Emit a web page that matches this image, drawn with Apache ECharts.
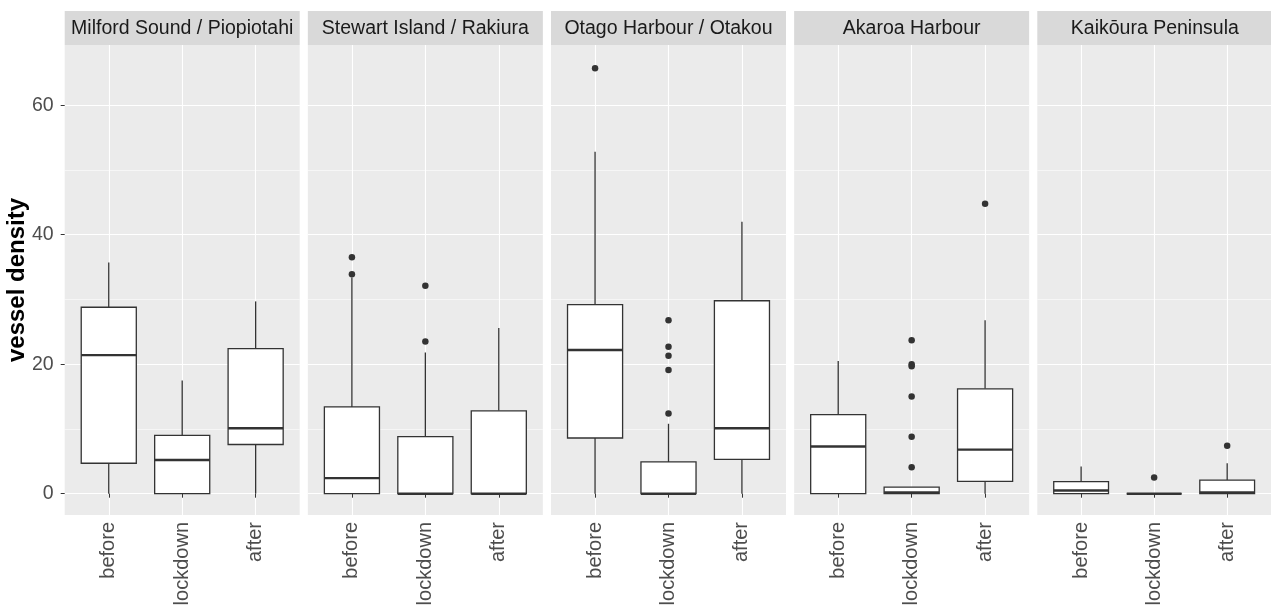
<!DOCTYPE html>
<html>
<head>
<meta charset="utf-8">
<script src="https://cdn.jsdelivr.net/npm/echarts@6/dist/echarts.min.js"></script>
<style>
html,body{margin:0;padding:0;background:#fff;}
#chart{width:1271px;height:612px;}
</style>
</head>
<body>
<div id="chart"></div>
<script>
// ---------- data ----------
const sites = ['Milford Sound / Piopiotahi', 'Stewart Island / Rakiura', 'Otago Harbour / Otakou', 'Akaroa Harbour', 'Kaikōura Peninsula'];
const periods = ['before', 'lockdown', 'after'];
const yTicks = [0, 20, 40, 60];
const yMinorTicks = [10, 30, 50];
const yTitle = 'vessel density';

// per period: [lower whisker, Q1, median, Q3, upper whisker]
const milford  = [[0, 4.7, 21.4, 28.8, 35.7], [0, 0, 5.2, 9.0, 17.5], [0, 7.6, 10.1, 22.4, 29.7]];
const stewart  = [[0, 0, 2.4, 13.4, 33.4], [0, 0, 0, 8.8, 21.8], [0, 0, 0, 12.8, 25.6]];
const otago    = [[0, 8.6, 22.2, 29.2, 52.8], [0, 0, 0, 4.9, 10.8], [0, 5.3, 10.1, 29.8, 42.0]];
const akaroa   = [[0, 0, 7.3, 12.2, 20.5], [0, 0, 0.2, 1.0, 1.0], [0, 1.9, 6.8, 16.2, 26.8]];
const kaikoura = [[0, 0, 0.5, 1.85, 4.2], [0, 0, 0, 0, 0], [0, 0, 0.2, 2.1, 4.7]];

// outliers: [period index, value]
const milfordOut  = [];
const stewartOut  = [[0, 36.5], [0, 33.9], [1, 32.1], [1, 23.5]];
const otagoOut    = [[0, 65.7], [1, 26.8], [1, 22.7], [1, 21.3], [1, 19.1], [1, 12.4]];
const akaroaOut   = [[1, 23.7], [1, 20.0], [1, 19.7], [1, 15.0], [1, 8.8], [1, 4.1], [2, 44.8]];
const kaikouraOut = [[1, 2.5], [2, 7.4]];

const boxStats = [milford, stewart, otago, akaroa, kaikoura];
const outliers = [milfordOut, stewartOut, otagoOut, akaroaOut, kaikouraOut];

// ---------- layout ----------
const PANEL_LEFT0 = 64.7, PANEL_STEP = 243.15, PANEL_W = 235;
const PLOT_TOP = 45, PLOT_H = 470;
const STRIP_TOP = 11, STRIP_H = 34;
const Y_MIN = -3.29, Y_MAX = 69.3;
const X_MIN = 0.4, X_MAX = 3.6;
const BOX_W = 0.75;
const FONT = "'Liberation Sans', Arial, Helvetica, sans-serif";
const TXT = '#4D4D4D';

const grids = [], xAxes = [], yAxes = [], series = [], graphics = [];
const catVals = periods.map((p, i) => i + 1);

function renderBox(params, api) {
  const x = api.value(0);
  const lo = api.value(1), q1 = api.value(2), med = api.value(3), q3 = api.value(4), hi = api.value(5);
  const h = BOX_W / 2;
  const pLo = api.coord([x, lo]);
  const pHi = api.coord([x, hi]);
  const pQ1 = api.coord([x - h, q1]);
  const pQ3 = api.coord([x + h, q3]);
  const pML = api.coord([x - h, med]);
  const pMR = api.coord([x + h, med]);
  const stroke = '#333333';
  return {
    type: 'group',
    children: [
      { type: 'line', shape: { x1: pLo[0], y1: pLo[1], x2: pLo[0], y2: pQ1[1] }, style: { stroke: stroke, lineWidth: 1.3 } },
      { type: 'line', shape: { x1: pHi[0], y1: pHi[1], x2: pHi[0], y2: pQ3[1] }, style: { stroke: stroke, lineWidth: 1.3 } },
      { type: 'rect', shape: { x: pQ1[0], y: pQ3[1], width: pQ3[0] - pQ1[0], height: pQ1[1] - pQ3[1] }, style: { fill: '#ffffff', stroke: stroke, lineWidth: 1.3 } },
      { type: 'line', shape: { x1: pML[0], y1: pML[1], x2: pMR[0], y2: pMR[1] }, style: { stroke: stroke, lineWidth: 2.4 } }
    ]
  };
}

sites.forEach((site, i) => {
  const left = PANEL_LEFT0 + i * PANEL_STEP;
  grids.push({ left: left, top: PLOT_TOP, width: PANEL_W, height: PLOT_H, show: true, backgroundColor: '#EBEBEB', borderWidth: 0, containLabel: false });

  xAxes.push({
    type: 'value', gridIndex: i, min: X_MIN, max: X_MAX,
    axisLine: { show: false },
    axisTick: { show: true, customValues: catVals, length: 4, lineStyle: { color: '#333333', width: 1 } },
    axisLabel: { show: true, customValues: catVals, rotate: 90, margin: 7, fontSize: 20, color: TXT, fontFamily: FONT,
      formatter: v => periods[Math.round(v) - 1] || '' },
    splitLine: { show: true, lineStyle: { color: '#ffffff', width: 1.1 } }
  });

  yAxes.push({
    type: 'value', gridIndex: i, min: Y_MIN, max: Y_MAX, position: 'left',
    axisLine: { show: false },
    axisTick: { show: i === 0, customValues: yTicks, length: 4, lineStyle: { color: '#333333', width: 1 } },
    axisLabel: { show: i === 0, customValues: yTicks, margin: 11, fontSize: 19.5, color: TXT, fontFamily: FONT },
    splitLine: { show: true, lineStyle: { color: '#ffffff', width: 1.1 } }
  });
  yAxes.push({
    type: 'value', gridIndex: i, min: Y_MIN, max: Y_MAX, position: 'left',
    axisLine: { show: false },
    axisTick: { show: false, customValues: yMinorTicks },
    axisLabel: { show: false, customValues: yMinorTicks },
    splitLine: { show: true, lineStyle: { color: '#ffffff', width: 0.55 } }
  });

  series.push({
    type: 'custom', xAxisIndex: i, yAxisIndex: 2 * i, renderItem: renderBox, silent: true,
    encode: { x: 0, y: [1, 2, 3, 4, 5] },
    data: boxStats[i].map((s, k) => [k + 1].concat(s))
  });
  series.push({
    type: 'scatter', xAxisIndex: i, yAxisIndex: 2 * i, symbol: 'circle', symbolSize: 6.5, silent: true,
    itemStyle: { color: '#333333', opacity: 1 },
    data: outliers[i].map(o => [o[0] + 1, o[1]])
  });

  graphics.push({ type: 'rect', x: left, y: STRIP_TOP, shape: { x: 0, y: 0, width: PANEL_W, height: STRIP_H }, style: { fill: '#D9D9D9' }, silent: true });
  graphics.push({ type: 'text', x: left + PANEL_W / 2, y: STRIP_TOP + STRIP_H / 2 + 0.5, silent: true,
    style: { text: site, fill: '#1A1A1A', font: '19.5px ' + FONT, textAlign: 'center', textVerticalAlign: 'middle', align: 'center', verticalAlign: 'middle' } });
});

graphics.push({ type: 'text', x: 17, y: PLOT_TOP + PLOT_H / 2, rotation: Math.PI / 2, silent: true,
  style: { text: yTitle, fill: '#000000', font: 'bold 24px ' + FONT, textAlign: 'center', textVerticalAlign: 'middle', align: 'center', verticalAlign: 'middle' } });

const chart = echarts.init(document.getElementById('chart'), null, { renderer: 'canvas' });
chart.setOption({
  animation: false,
  backgroundColor: '#ffffff',
  grid: grids,
  xAxis: xAxes,
  yAxis: yAxes,
  series: series,
  graphic: graphics
});
</script>
</body>
</html>
